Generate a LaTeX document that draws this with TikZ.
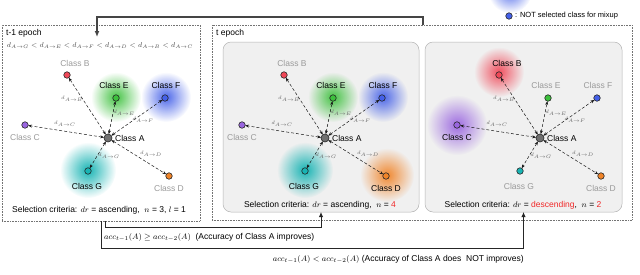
\documentclass[tikz,border=0pt]{standalone}
\usepackage{fontspec}
\setmainfont{Liberation Sans}
\usetikzlibrary{arrows.meta,fadings,calc}
\definecolor{cRed}{HTML}{F04858}
\definecolor{cGreen}{HTML}{3CC03C}
\definecolor{cBlue}{HTML}{4460E8}
\definecolor{cPurple}{HTML}{9A66E0}
\definecolor{cCyan}{HTML}{18B4B4}
\definecolor{cOrange}{HTML}{F08428}
\definecolor{cGrayA}{HTML}{707070}
\definecolor{lbl}{HTML}{9A9A9A}
\definecolor{selred}{HTML}{F02828}
\definecolor{dgray}{HTML}{454545}
\tikzfading[name=glowfade, inner color=transparent!0, outer color=transparent!100]
\tikzset{
  dot/.style={circle, draw=black!85, line width=0.6pt, minimum size=6.5pt, inner sep=0pt, outer sep=0pt},
  clab/.style={font=\fontsize{8.5}{10}\selectfont, inner sep=0pt},
  elab/.style={font=\fontsize{5}{6}\selectfont, text=black!60, inner sep=0pt},
  conn/.style={densely dashed, line width=0.5pt, draw=black!90, {Stealth[length=3.8pt,width=3pt]}-{Stealth[length=3.8pt,width=3pt]}},
  outerbox/.style={draw=black!55, densely dotted, line width=0.6pt, inner sep=0pt, outer sep=0pt},
  innerbox/.style={draw=black!30, fill=black!6, rounded corners=8pt, line width=0.5pt, inner sep=0pt, outer sep=0pt},
  txt/.style={font=\fontsize{8.5}{10}\selectfont, inner sep=0pt},
  bigarrow/.style={draw=dgray, line width=1.3pt, -{Latex[length=6pt,width=5pt]}},
  barrow/.style={draw=black!85, line width=0.9pt, -{Latex[length=5pt,width=4.5pt]}},
}
\newcommand\myglow[4]{\fill[#1, path fading=glowfade, fill opacity=#4] (#2) circle (#3);}
\newcommand\mypanel[8]{%
\begin{scope}[xshift=#2pt]
\node[dot, fill=cRed] (#1B) at (67,75) {};
\node[dot, fill=cGreen] (#1E) at (116,98) {};
\node[dot, fill=cBlue] (#1F) at (165,98) {};
\node[dot, fill=cPurple] (#1C) at (25,125) {};
\node[dot, fill=cCyan] (#1G) at (88,171) {};
\node[dot, fill=cOrange] (#1D) at (169,176) {};
\node[dot, fill=cGrayA, minimum size=8pt] (#1A) at (108,138) {};
\node[clab, text=#3] (#1lB) at (75,63) {Class B};
\node[clab, text=#4] (#1lE) at (114,85) {Class E};
\node[clab, text=#5] (#1lF) at (166,85) {Class F};
\node[clab, text=#6] (#1lC) at (25,137) {Class C};
\node[clab, text=#7] (#1lG) at (87,186) {Class G};
\node[clab, text=#8] (#1lD) at (169,188) {Class D};
\node[clab, anchor=west] (#1lA) at (115,138) {Class A};
\draw[conn] (#1A) -- (#1B);
\draw[conn] (#1A) -- (#1E);
\draw[conn] (#1A) -- (#1F);
\draw[conn] (#1A) -- (#1C);
\draw[conn] (#1A) -- (#1G);
\draw[conn] (#1A) -- (#1D);
\node[elab] (#1dB) at (72,99) {$d_{A\to B}$};
\node[elab] (#1dE) at (124,113) {$d_{A\to E}$};
\node[elab] (#1dF) at (143,120) {$d_{A\to F}$};
\node[elab] (#1dC) at (65,124) {$d_{A\to C}$};
\node[elab] (#1dG) at (109,156) {$d_{A\to G}$};
\node[elab] (#1dD) at (151,154) {$d_{A\to D}$};
\end{scope}}
\begin{document}
\begin{tikzpicture}[x=1pt,y=-1pt]
\clip (0,0) rectangle (640,274);
\useasboundingbox (0,0) rectangle (640,274);
% boxes
\node[outerbox, minimum width=198pt, minimum height=196pt] (lbox) at (101,123) {};
\node[outerbox, minimum width=420pt, minimum height=195pt] (tbox) at (422,122.5) {};
\node[innerbox, minimum width=196pt, minimum height=170pt] (mbox) at (321,127) {};
\node[innerbox, minimum width=197pt, minimum height=170pt] (rbox) at (523.5,127) {};
\node[txt, anchor=west] (lt) at (6,33) {t-1 epoch};
\node[txt, anchor=west] (tt) at (216,33) {t epoch};
\node[font=\fontsize{7.2}{9}\selectfont, text=black!70, inner sep=0pt] (order) at (100,46) {$d_{A\to G} < d_{A\to E} < d_{A\to F} < d_{A\to D} < d_{A\to B} < d_{A\to C}$};
% glows
\myglow{cGreen}{116,97}{25pt}{0.95}
\myglow{cBlue}{166,97}{25pt}{0.95}
\myglow{cCyan}{88,170}{28pt}{1}
\myglow{cGreen}{333,97}{25pt}{0.95}
\myglow{cBlue}{383,97}{25pt}{0.95}
\myglow{cCyan}{305,170}{28pt}{1}
\myglow{cOrange}{387,175}{27pt}{0.95}
\myglow{cRed}{499,72}{25pt}{0.95}
\myglow{cPurple}{457,125}{30pt}{0.95}
\myglow{cBlue}{510,-9}{22pt}{0.9}
% panels
\mypanel{L}{0}{lbl}{black}{black}{lbl}{black}{lbl}
\mypanel{M}{217}{lbl}{black}{black}{lbl}{black}{black}
\mypanel{R}{432}{black}{lbl}{lbl}{black}{lbl}{lbl}
% selection criteria
\node[txt] (lsel) at (99,210) {Selection criteria: $dr$ = ascending,\ \ $n$ = 3, $l$ = 1};
\node[txt] (msel) at (320,205) {Selection criteria: $dr$ = ascending,\ \ $n$ = \textcolor{selred}{4}};
\node[txt] (rsel) at (523,205) {Selection criteria: $dr$ = \textcolor{selred}{descending},\ \ $n$ = \textcolor{selred}{2}};
% legend
\node[dot, fill=cBlue] (legdot) at (509,16) {};
\node[font=\fontsize{7.5}{9}\selectfont, inner sep=0pt, anchor=west] (legtxt) at (515,16) {: NOT selected class for mixup};
% top arrow
\coordinate (topS) at (423,25);
\coordinate (topE) at (97,37);
\draw[bigarrow] (topS) -- ++(0,-8) -| (topE);
% bottom arrows
\coordinate (b1s) at (105,221);
\coordinate (b2s) at (101,221);
\draw[barrow] (b1s) -- ++(0,6) -| (mbox.south);
\draw[barrow] (b2s) -- ++(0,27) -| (rbox.south);
\node[txt, anchor=west] (cond1) at (104,237) {$acc_{t-1}(A) \geq acc_{t-2}(A)$\ \ (Accuracy of Class A improves)};
\node[txt, anchor=east] (cond2) at (524,259) {$acc_{t-1}(A) < acc_{t-2}(A)$ (Accuracy of Class A does\ \ NOT improves)};
\end{tikzpicture}
\end{document}
